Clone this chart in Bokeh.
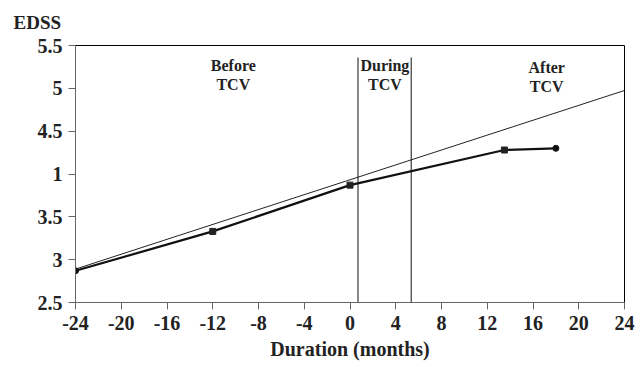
from bokeh.plotting import figure
from bokeh.models import FixedTicker, Range1d, Title
from bokeh.core.properties import value
from bokeh.embed import file_html
from bokeh.resources import INLINE

# Data
months = [-24, -12, 0, 13.5, 18]
edss = [2.87, 3.33, 3.87, 4.28, 4.30]
trend_x = [-24, 24]
trend_y = [2.89, 4.975]
phase_lines_x = [0.7, 5.35]
phase_top = 5.36
phase_labels = ["Before\nTCV", "During\nTCV", "After\nTCV"]
phase_label_x = [-10.2, 3.05, 17.2]
phase_label_y = [5.37, 5.37, 5.345]
x_ticks = [-24, -20, -16, -12, -8, -4, 0, 4, 8, 12, 16, 20, 24]
x_tick_labels = ["-24", "-20", "-16", "-12", "-8", "-4", "0", "4", "8", "12", "16", "20", "24"]
y_ticks = [2.5, 3, 3.5, 4, 4.5, 5, 5.5]
y_tick_labels = ["2.5", "3", "3.5", "1", "4.5", "5", "5.5"]

FONT = "Liberation Serif"

p = figure(width=643, height=367, output_backend="svg", toolbar_location=None,
           x_range=Range1d(-24, 24), y_range=Range1d(2.5, 5.5),
           min_border_left=75, min_border_right=19, min_border_top=45, min_border_bottom=65)
p.background_fill_color = "white"
p.border_fill_color = "white"
p.outline_line_color = "black"
p.outline_line_width = 1
p.xgrid.visible = False
p.ygrid.visible = False

# trend line
p.line(trend_x, trend_y, line_color="#222222", line_width=1)
# phase lines
p.segment(x0=phase_lines_x, y0=[2.5] * len(phase_lines_x), x1=phase_lines_x,
          y1=[phase_top] * len(phase_lines_x), line_color="#111111", line_width=1)
# data line
p.line(months, edss, line_color="#111111", line_width=2.2)
p.scatter([months[0], months[-1]], [edss[0], edss[-1]], marker="circle", size=6,
          fill_color="#111111", line_color="#111111")
p.scatter(months[1:-1], edss[1:-1], marker="square", size=6,
          fill_color="#222222", line_color="#222222")

# phase texts
p.text(x=phase_label_x, y=phase_label_y, text=phase_labels,
       text_font=value(FONT), text_font_style="bold", text_font_size="16px",
       text_align="center", text_baseline="top", text_line_height=1.15,
       text_color="#222222")

# axes
for ax in (p.xaxis[0], p.yaxis[0]):
    ax.major_label_text_font = FONT
    ax.major_label_text_font_style = "bold"
    ax.major_label_text_font_size = "20px"
    ax.major_label_text_color = "#222222"
    ax.axis_line_color = "#666666"
    ax.major_tick_line_color = "#666666"
    ax.minor_tick_line_color = None
    ax.major_tick_in = 0
    ax.major_tick_out = 7

p.xaxis.ticker = FixedTicker(ticks=x_ticks)
p.yaxis.ticker = FixedTicker(ticks=y_ticks)
p.xaxis.major_label_overrides = {t: l for t, l in zip(x_ticks, x_tick_labels)}
p.yaxis.major_label_overrides = {t: l for t, l in zip(y_ticks, y_tick_labels)}
p.xaxis.major_label_standoff = 6
p.yaxis.major_label_standoff = 6

p.add_layout(Title(text="Duration (months)", align="center", offset=12, standoff=6,
                   vertical_align="bottom",
                   text_font=FONT, text_font_style="bold", text_font_size="20px",
                   text_color="#222222"), "below")

p.add_layout(Title(text="EDSS", align="left", offset=-62, standoff=22,
                   vertical_align="top",
                   text_font=FONT, text_font_style="bold", text_font_size="19px",
                   text_color="#222222"), "above")

open("out.html", "w").write(file_html(p, INLINE))
